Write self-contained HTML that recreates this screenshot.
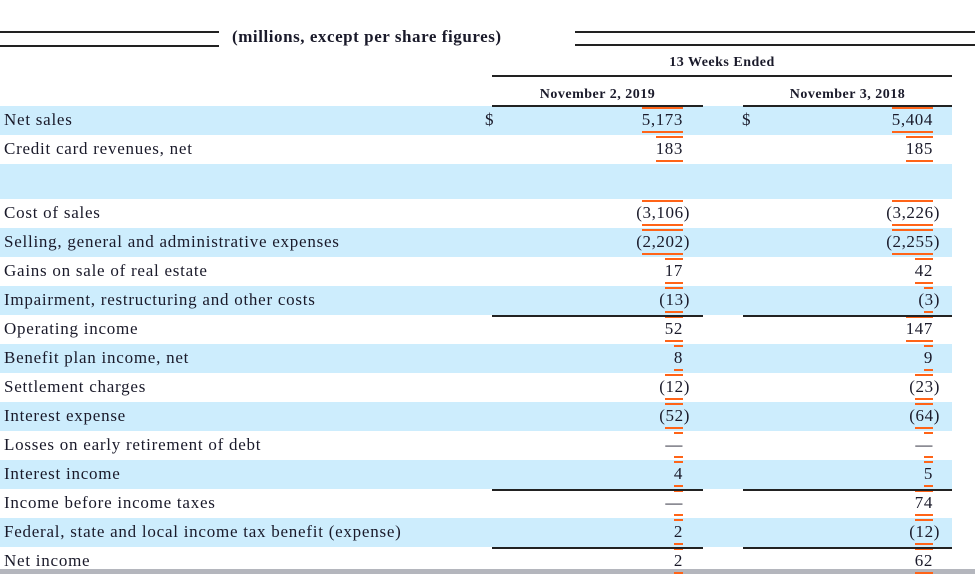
<!DOCTYPE html>
<html><head><meta charset="utf-8">
<style>
html,body{margin:0;padding:0;background:#fff;}
#wrap{position:relative;width:975px;height:574px;overflow:hidden;font-family:"Liberation Serif",serif;color:#1a1a2a;}
.abs{position:absolute;}
.band{position:absolute;left:0;width:952px;background:#cdedfd;}
.lbl{position:absolute;left:4px;font-size:17px;letter-spacing:0.75px;line-height:29px;white-space:nowrap;}
.num{position:absolute;font-size:17px;letter-spacing:0.6px;line-height:29px;text-align:right;white-space:nowrap;}
.hr{position:absolute;height:1.5px;background:#222;}
.or{position:absolute;height:2px;background:#ff6418;}
.hdr{position:absolute;font-weight:bold;font-size:14px;letter-spacing:0.5px;text-align:center;white-space:nowrap;}
</style></head><body>
<div id="wrap">
  <div class="hr" style="left:0;top:31px;width:219px"></div>
  <div class="hr" style="left:0;top:45px;width:219px"></div>
  <div class="hr" style="left:575px;top:31px;width:400px"></div>
  <div class="hr" style="left:575px;top:44px;width:400px"></div>
  <div class="abs" style="left:232px;top:27px;font-size:17px;letter-spacing:0.55px;font-weight:bold;white-space:nowrap">(millions, except per share figures)</div>
  <div class="hdr" style="left:492px;width:460px;top:55px">13 Weeks Ended</div>
  <div class="hr" style="left:492px;top:75px;width:460px"></div>
  <div class="hdr" style="left:492px;width:211px;top:87px">November 2, 2019</div>
  <div class="hdr" style="left:743px;width:209px;top:87px">November 3, 2018</div>
  <div class="hr" style="left:492px;top:105px;width:211px"></div>
  <div class="hr" style="left:743px;top:105px;width:209px"></div>
  <div class="abs" style="left:0;top:569px;width:975px;height:5px;background:#b4b6bd"></div>
</div>
<script>
const labels=["Net sales","Credit card revenues, net","","Cost of sales","Selling, general and administrative expenses","Gains on sale of real estate","Impairment, restructuring and other costs","Operating income","Benefit plan income, net","Settlement charges","Interest expense","Losses on early retirement of debt","Interest income","Income before income taxes","Federal, state and local income tax benefit (expense)","Net income"];
const values2019=["5,173","183","","(3,106)","(2,202)","17","(13)","52","8","(12)","(52)","—","4","—","2","2"];
const values2018=["5,404","185","","(3,226)","(2,255)","42","(3)","147","9","(23)","(64)","—","5","74","(12)","62"];
const rowTops=[106,135,164,199,228,257,286,315,344,373,402,431,460,489,518,547];
const rowHeights=[29,29,35,29,29,29,29,29,29,29,29,29,29,29,29,29];
const W=document.getElementById('wrap');
function add(cls,style,name,text){const d=document.createElement('div');d.className=cls;d.style.cssText=style;if(text!==undefined)d.textContent=text;


W.insertBefore(d,W.firstChild);return d;}
labels.forEach((l,i)=>{
  const t=rowTops[i],h=rowHeights[i];
  if(i%2===0){add('band',`top:${t}px;height:${h}px`,'row-band');}
  const lb=document.createElement('div');lb.className='lbl';lb.style.top=(t+(h-29)/2-1)+'px';lb.textContent=l;
  
  
  W.appendChild(lb);
  [[values2019[i],683,'value-2019'],[values2018[i],933,'value-2018']].forEach(([v,r,n])=>{
    if(v==='')return;
    const paren=v.startsWith('(');
    const d=document.createElement('div');d.className='num';
    d.style.cssText=`top:${t-1}px;right:${975-r-(paren?7:0)}px`;
    d.textContent=v;
    
    
    W.appendChild(d);
    const len=v.replace(/[(),]/g,'').length;const w=len*9+(v.includes(',')?5:0);
    const o1=document.createElement('div');o1.className='or';o1.style.cssText=`top:${t+1}px;left:${r-w}px;width:${w}px`;
    
    
    W.appendChild(o1);
    const o2=document.createElement('div');o2.className='or';o2.style.cssText=`top:${t+h-4}px;left:${r-w}px;width:${w}px`;
    
    
    W.appendChild(o2);
  });
});
[[485,'dollar-2019'],[742,'dollar-2018']].forEach(([x,n])=>{const d=document.createElement('div');d.className='num';d.style.cssText=`top:105px;left:${x}px`;d.textContent='$';


W.appendChild(d);});
[315,489,547].forEach(y=>{
  const a=document.createElement('div');a.className='hr';a.style.cssText=`top:${y}px;left:492px;width:211px`;
  
  
  W.appendChild(a);
  const b=document.createElement('div');b.className='hr';b.style.cssText=`top:${y}px;left:743px;width:209px`;
  
  
  W.appendChild(b);
});
</script>
</body></html>
